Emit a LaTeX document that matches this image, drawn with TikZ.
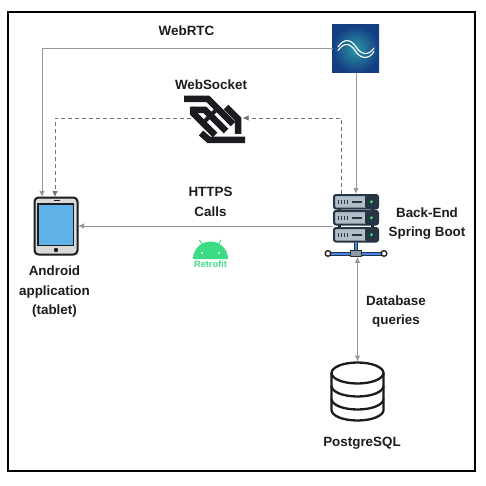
\documentclass[tikz,border=0pt]{standalone}
\usepackage{fontspec}
\setmainfont{Liberation Sans}
\usetikzlibrary{arrows.meta}
\definecolor{linegray}{RGB}{150,150,150}
\definecolor{inkdark}{RGB}{28,28,32}
\definecolor{screenblue}{RGB}{94,178,232}
\definecolor{rackgray}{RGB}{176,190,200}
\definecolor{rackdark}{RGB}{38,52,68}
\definecolor{droidgreen}{RGB}{61,220,132}
\definecolor{waveinner}{RGB}{44,150,165}
\definecolor{waveouter}{RGB}{20,62,130}
\tikzset{
  label/.style={font=\bfseries\fontsize{13.4}{19.5}\selectfont, text=inkdark, align=center},
  icon/.style={inner sep=0pt, outer sep=0pt},
  link/.style={draw=linegray, line width=1pt, -{Latex[length=6pt,width=5.5pt]}},
  wslink/.style={link, line width=0.8pt, draw=black!55, dash pattern=on 4pt off 3pt},
  wsband/.style={inkdark, line width=6.5pt, miter limit=10},
}
\newcommand{\rackunit}[1]{
  \draw[rackdark, line width=2pt, fill=rackgray, rounded corners=2pt] (334, #1) rectangle (378, #1+13.5);
  \fill[rackdark, rounded corners=1pt] (365, #1+0.5) rectangle (378, #1+13);
  \fill[droidgreen] (371.5, #1+6.8) circle (1.6pt);
  \draw[rackdark, line width=1.5pt] (352, #1+6.8) -- (362, #1+6.8);
  \foreach \dotx in {337.5, 340.5, 343.5, 346.5}
    \fill[rackdark] (\dotx, #1+5.2) rectangle +(1.5, 3.4);
}
\begin{document}
\begin{tikzpicture}[x=1pt, y=-1pt]
  \useasboundingbox (0, 0) rectangle (486, 486);
  \fill[white] (0, 0) rectangle (486, 486);
  \draw[black, line width=2pt] (8, 12.5) rectangle (475, 471);

  % media server
  \node[icon, minimum width=47pt, minimum height=48pt] (webrtcbox) at (356, 49) {};
  \shade[inner color=waveinner, outer color=waveouter] (332, 25) rectangle (379, 73);
  \draw[white, line width=1.1pt, line cap=round] (338, 47) .. controls (344, 38) and (351, 39) .. (356, 47) .. controls (361, 55) and (369, 56) .. (374, 48);
  \draw[white, line width=1.1pt, line cap=round] (338, 50.5) .. controls (344, 42) and (350, 43) .. (355, 50.5) .. controls (360, 59) and (369, 60) .. (374, 51.5);

  % tablet
  \node[icon, minimum width=44pt, minimum height=58pt] (tablet) at (56, 226) {};
  \draw[inkdark, line width=2pt, fill=black!15, rounded corners=4pt] (34.5, 197.5) rectangle (77.5, 254.5);
  \draw[inkdark, line width=1.6pt, fill=screenblue] (38, 204) rectangle (73.5, 245.5);
  \fill[inkdark] (56, 250) circle (2.2pt);
  \fill[inkdark] (54, 199.8) rectangle (60, 201.2);

  % server
  \node[icon, minimum width=46pt, minimum height=48pt] (server) at (356, 218) {};
  \fill[inkdark] (338, 207) rectangle (341, 230);
  \fill[inkdark] (371, 207) rectangle (374, 230);
  \rackunit{195}
  \rackunit{211}
  \rackunit{228}
  \draw[rackdark, line width=4pt] (356, 241) -- (356, 252);
  \draw[screenblue!75!blue, line width=2.4pt] (356, 241.5) -- (356, 251);
  \draw[rackdark, line width=4pt] (329, 253.5) -- (383, 253.5);
  \draw[screenblue!75!blue, line width=2pt] (329, 253.5) -- (383, 253.5);
  \draw[inkdark, line width=1.3pt, fill=white] (328, 253.5) circle (2.8pt);
  \draw[inkdark, line width=1.3pt, fill=white] (384, 253.5) circle (2.8pt);
  \node[icon, draw=rackdark, line width=1pt, fill=rackgray!80!black, minimum width=11pt, minimum height=6.5pt] (busbox) at (356, 253.5) {};

  % database
  \node[icon, minimum width=54pt, minimum height=60pt] (database) at (357.5, 391.5) {};
  \draw[inkdark, line width=2.3pt] (331.5, 373) -- (331.5, 410) arc[start angle=180, end angle=360, x radius=26, y radius=-10.5] -- (383.5, 373);
  \draw[inkdark, line width=2.3pt] (357.5, 373) ellipse[x radius=26, y radius=10.5];
  \draw[inkdark, line width=2.3pt] (331.5, 386) arc[start angle=180, end angle=360, x radius=26, y radius=-10.5];
  \draw[inkdark, line width=2.3pt] (331.5, 399) arc[start angle=180, end angle=360, x radius=26, y radius=-10.5];

  % connectors
  \node[icon, minimum width=58pt, minimum height=50pt] (wslogo) at (213.5, 118) {};
  \draw[link] (webrtcbox.west) -| ([xshift=-14pt]tablet.north);
  \draw[link] (webrtcbox.south) -- (server.north);
  \draw[wslink] ([xshift=6pt]wslogo.west) -| ([xshift=-1pt]tablet.north);
  \draw[wslink] ([xshift=-15pt]server.north) |- (wslogo.east);
  \draw[link] ([yshift=-8pt]server.west) -- (tablet.east);
  \draw[link, {Latex[length=6pt,width=5.5pt]}-{Latex[length=6pt,width=5.5pt]}] (busbox.south -| database.north) -- (database.north);

  % websocket logo
  \draw[wsband] (184, 99) -- (208, 99) -- (233, 124);
  \draw[wsband] (191, 110) -- (205, 110) -- (226, 131);
  \draw[wsband] (193, 107) -- (193, 113) -- (215, 135);
  \draw[wsband] (226, 107) -- (238, 119) -- (238, 134);
  \draw[wsband] (201, 133) -- (209, 140) -- (245, 140);
  \draw[inkdark, line width=4pt] (204, 122) -- (216, 110);

  % android head
  \fill[droidgreen] (193, 259) arc[start angle=180, end angle=360, radius=17.5];
  \draw[droidgreen, line width=1pt] (199.5, 240) -- (204, 247);
  \draw[droidgreen, line width=1pt] (221, 240) -- (217, 247);
  \fill[white] (202, 253) circle (1.2pt);
  \fill[white] (219, 253) circle (1.2pt);
  \node[icon, text=droidgreen, font=\bfseries\fontsize{9.2}{10}\selectfont] (retrofit) at (210.5, 264) {Retrofit};

  % labels
  \node[label] (webrtclabel) at (186.5, 30.5) {WebRTC};
  \node[label] (wslabel) at (211, 84.5) {WebSocket};
  \node[label] (httpslabel) at (210.5, 202) {HTTPS\\Calls};
  \node[label] (tabletlabel) at (54.5, 292) {Android\\application\\(tablet)};
  \node[label] (serverlabel) at (427, 223.5) {Back-End\\Spring Boot};
  \node[label] (dblabel) at (396, 311.5) {Database\\queries};
  \node[label] (pglabel) at (362, 443) {PostgreSQL};
\end{tikzpicture}
\end{document}
